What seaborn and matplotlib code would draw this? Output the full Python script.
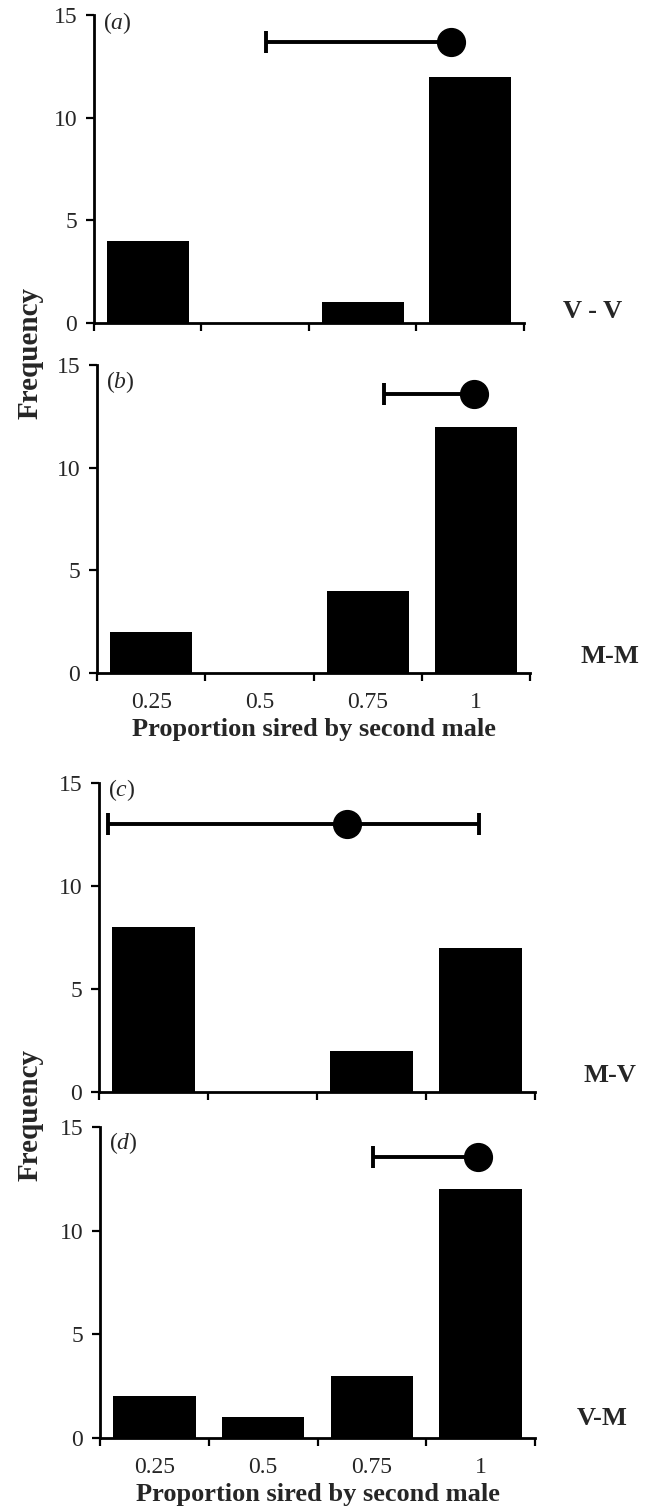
import numpy as np
import pandas as pd
import matplotlib
matplotlib.use("Agg")
import matplotlib.pyplot as plt
import seaborn as sns

# proportion of offspring sired by the second male (category values)
proportions = [0.25, 0.5, 0.75, 1.0]
tick_labels = ["0.25", "0.5", "0.75", "1"]
bin_edges = [0.125, 0.375, 0.625, 0.875, 1.125]

# frequencies per panel
freq_vv = [4, 0, 1, 12]
freq_mm = [2, 0, 4, 12]
freq_mv = [8, 0, 2, 7]
freq_vm = [2, 1, 3, 12]

# mean and interval (low, high) drawn above each histogram
mean_vals = [0.955, 0.996, 0.695, 0.993]
low_vals = [0.525, 0.787, 0.145, 0.752]
high_vals = [0.955, 0.996, 0.996, 0.993]
bar_height = [13.7, 13.6, 13.0, 13.55]

panel_tags = ["a", "b", "c", "d"]
cross_labels = ["V - V", "M-M", "M-V", "V-M"]
x_label = "Proportion sired by second male"
y_label = "Frequency"

sns.set_style("ticks")
plt.rcParams["font.family"] = ["Liberation Serif", "DejaVu Serif"]
plt.rcParams["mathtext.fontset"] = "custom"
plt.rcParams["mathtext.it"] = "Liberation Serif:italic"
plt.rcParams["mathtext.rm"] = "Liberation Serif"

fig = plt.figure(figsize=(6.55, 15.09), dpi=100)

# axes rectangles (figure fraction) and label placements
rects = [
    [0.1435, 0.7860, 0.6565, 0.2041],
    [0.1481, 0.5540, 0.6611, 0.2041],
    [0.1511, 0.2763, 0.6656, 0.2048],
    [0.1527, 0.0471, 0.6641, 0.2061],
]
tag_y = [0.974, 0.945, 0.977, 0.949]
cross_pos = [(1.16, 0.036), (1.185, 0.052), (1.172, 0.055), (1.154, 0.064)]
show_xticklabels = [False, True, False, True]

all_freqs = [freq_vv, freq_mm, freq_mv, freq_vm]

for i, freqs in enumerate(all_freqs):
    ax = fig.add_axes(rects[i])
    df = pd.DataFrame({"proportion": proportions, "frequency": freqs})
    sns.barplot(data=df, x="proportion", y="frequency", native_scale=True,
                color="black", saturation=1, width=0.76, ax=ax,
                edgecolor="black", linewidth=0)

    m = mean_vals[i]
    ax.errorbar([m], [bar_height[i]],
                xerr=[[m - low_vals[i]], [high_vals[i] - m]],
                fmt="o", color="black", ms=20, capsize=8,
                elinewidth=2.8, capthick=2.8, clip_on=False, zorder=5)

    ax.set_xlim(bin_edges[0], bin_edges[-1])
    ax.set_ylim(0, 15)
    ax.set_yticks([0, 5, 10, 15])
    ax.set_xticks(bin_edges)
    ax.set_xticklabels([])
    if show_xticklabels[i]:
        ax.set_xticks(proportions, labels=tick_labels, minor=True)
        ax.set_xlabel(x_label, fontsize=19, fontweight="bold", labelpad=3)
    else:
        ax.set_xlabel("")
    ax.set_ylabel("")

    ax.tick_params(axis="both", which="major", direction="out", length=6,
                   width=1.6, labelsize=17, pad=6, color="black")
    ax.tick_params(axis="x", which="minor", length=0, labelsize=17, pad=14)
    for s in ["left", "bottom"]:
        ax.spines[s].set_linewidth(2)
        ax.spines[s].set_color("black")
    sns.despine(ax=ax)

    ax.text(0.021, tag_y[i], "($\\mathit{" + panel_tags[i] + "}$)",
            transform=ax.transAxes, fontsize=17, ha="left", va="center")
    ax.text(cross_pos[i][0], cross_pos[i][1], cross_labels[i],
            transform=ax.transAxes, fontsize=19, fontweight="bold",
            ha="center", va="center")

fig.text(30 / 655, 1 - 353 / 1509, y_label, rotation=90, fontsize=21,
         fontweight="bold", ha="center", va="center")
fig.text(30 / 655, 1 - 1115 / 1509, y_label, rotation=90, fontsize=21,
         fontweight="bold", ha="center", va="center")

fig.savefig("out.png", dpi=100)
